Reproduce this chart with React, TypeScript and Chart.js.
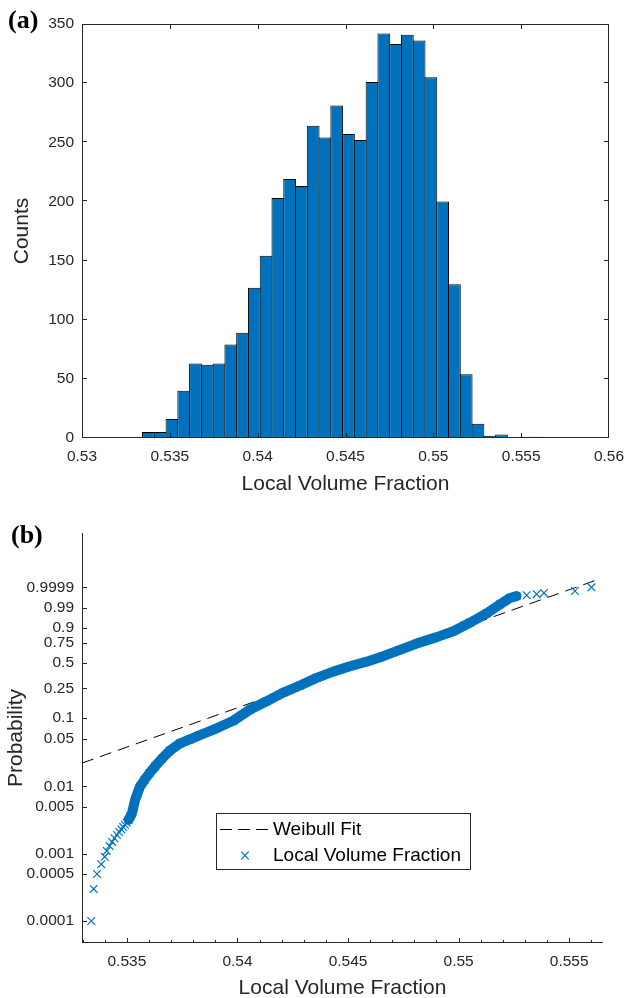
import React, { useEffect, useRef } from "react";
import { Chart, registerables } from "chart.js";

Chart.register(...registerables);

// ---------------- Panel (a): histogram ----------------
const histBinCenters = [
  0.53378, 0.53445, 0.53512, 0.53579, 0.53646, 0.53713, 0.5378, 0.53847, 0.53914,
  0.53981, 0.54048, 0.54115, 0.54182, 0.54249, 0.54316, 0.54383, 0.5445, 0.54517,
  0.54584, 0.54651, 0.54718, 0.54785, 0.54852, 0.54919, 0.54986, 0.55053, 0.5512,
  0.55187, 0.55254, 0.55321, 0.55388, 0.55455, 0.55522, 0.55589,
];
const histCounts = [
  5, 5, 16, 40, 63, 62, 63, 79, 89, 127, 154, 203, 219, 213, 264, 254, 281, 257,
  252, 301, 342, 333, 341, 336, 305, 200, 130, 54, 12, 2, 3, 0, 1, 1,
];
const histXTicks = [0.53, 0.535, 0.54, 0.545, 0.55, 0.555, 0.56];
const histYTicks = [0, 50, 100, 150, 200, 250, 300, 350];

// ---------------- Panel (b): Weibull probability plot ----------------
const lowTailX = [
  0.53339, 0.5335, 0.53365, 0.53384, 0.534, 0.53409, 0.53422, 0.53433, 0.53444,
  0.53455, 0.53465, 0.53475, 0.53483, 0.53491, 0.53499,
];
const lowTailP = [
  0.0001, 0.0003, 0.0005, 0.0007, 0.0009, 0.0011, 0.0013, 0.0015, 0.0017, 0.0019,
  0.0021, 0.0023, 0.0025, 0.0027, 0.0029,
];
const bandX = [
  0.53508, 0.53516, 0.53523, 0.5353, 0.53537, 0.53548, 0.53559, 0.5358, 0.53602,
  0.53627, 0.53659, 0.53695, 0.5374, 0.53785, 0.5383, 0.53906, 0.53981, 0.54057,
  0.54132, 0.54207, 0.54283, 0.54358, 0.54433, 0.54509, 0.54584, 0.54659, 0.54735,
  0.5481, 0.54901, 0.54976, 0.55051, 0.55127, 0.55187, 0.55232, 0.55262,
];
const bandP = [
  0.0032, 0.0036, 0.004, 0.005, 0.0063, 0.0079, 0.0099, 0.0125, 0.0157, 0.0197,
  0.0257, 0.0338, 0.0429, 0.0491, 0.0567, 0.0709, 0.0908, 0.1306, 0.1694, 0.2209,
  0.273, 0.339, 0.401, 0.46, 0.514, 0.581, 0.661, 0.738, 0.812, 0.87, 0.935, 0.977,
  0.994, 0.9983, 0.9989,
];
const highTailX = [0.55308, 0.55353, 0.55386, 0.55526, 0.55601];
const highTailP = [0.9991, 0.9993, 0.9995, 0.9997, 0.9999];

const fitX = [0.53297, 0.55636];
const fitP = [0.0221, 0.999995];

const probTicks = [0.0001, 0.0005, 0.001, 0.005, 0.01, 0.05, 0.1, 0.25, 0.5, 0.75, 0.9, 0.99, 0.9999];
const probTickLabels = ["0.0001", "0.0005", "0.001", "0.005", "0.01", "0.05", "0.1", "0.25", "0.5", "0.75", "0.9", "0.99", "0.9999"];
const probXTicks = [0.535, 0.54, 0.545, 0.55, 0.555];
const probXMinorTicks = [
  0.533, 0.534, 0.536, 0.537, 0.538, 0.539, 0.541, 0.542, 0.543, 0.544, 0.546,
  0.547, 0.548, 0.549, 0.551, 0.552, 0.553, 0.554, 0.556,
];

const xLabel = "Local Volume Fraction";
const yLabelA = "Counts";
const yLabelB = "Probability";
const fitLabel = "Weibull Fit";
const dataLabel = "Local Volume Fraction";

// ---------------- styles ----------------
const BLUE = "#0072BD";
const AXIS = "#262626";
const SANS = '"Liberation Sans", Arial, Helvetica, sans-serif';
const tickFont = { family: SANS, size: 15.5 };

const weib = (p: number) => Math.log(-Math.log(1 - p));
const fmtX = (v: number) => String(+Number(v).toFixed(4));

const axesPluginA = {
  id: "axesA",
  afterDraw(chart: any) {
    const { ctx, chartArea } = chart;
    const { left, right, top, bottom } = chartArea;
    const xs = chart.scales.x;
    const ys = chart.scales.y;
    ctx.save();
    ctx.strokeStyle = AXIS;
    ctx.lineWidth = 1;
    ctx.beginPath();
    ctx.rect(left + 0.5, top + 0.5, right - left - 1, bottom - top - 1);
    ctx.stroke();
    const tl = 5;
    ctx.beginPath();
    histXTicks.forEach((v) => {
      const px = Math.min(Math.round(xs.getPixelForValue(v)), right - 1) + 0.5;
      ctx.moveTo(px, bottom);
      ctx.lineTo(px, bottom - tl);
      ctx.moveTo(px, top);
      ctx.lineTo(px, top + tl);
    });
    histYTicks.forEach((v) => {
      const py = Math.max(Math.round(ys.getPixelForValue(v)), top + 1) - 0.5;
      ctx.moveTo(left, py);
      ctx.lineTo(left + tl, py);
      ctx.moveTo(right, py);
      ctx.lineTo(right - tl, py);
    });
    ctx.stroke();
    ctx.restore();
  },
};

const axesPluginB = {
  id: "axesB",
  afterDatasetsDraw(chart: any) {
    const { ctx, chartArea } = chart;
    const { left, right, top, bottom } = chartArea;
    const xs = chart.scales.x;
    const ys = chart.scales.y;
    ctx.save();
    ctx.strokeStyle = AXIS;
    ctx.lineWidth = 1;
    ctx.beginPath();
    ctx.moveTo(left + 0.5, top);
    ctx.lineTo(left + 0.5, bottom);
    ctx.moveTo(left, bottom - 0.5);
    ctx.lineTo(right, bottom - 0.5);
    probTicks.forEach((p) => {
      const py = Math.round(ys.getPixelForValue(weib(p))) + 0.5;
      ctx.moveTo(left, py);
      ctx.lineTo(left + 5, py);
    });
    probXTicks.forEach((v) => {
      const px = Math.round(xs.getPixelForValue(v)) + 0.5;
      ctx.moveTo(px, bottom);
      ctx.lineTo(px, bottom - 5);
    });
    probXMinorTicks.forEach((v) => {
      const px = Math.round(xs.getPixelForValue(v)) + 0.5;
      ctx.moveTo(px, bottom);
      ctx.lineTo(px, bottom - 3);
    });
    ctx.stroke();
    ctx.restore();
  },
  afterDraw(chart: any) {
    const { ctx } = chart;
    const lx = 216, ly = 313, lw = 254, lh = 56;
    ctx.save();
    ctx.fillStyle = "#fff";
    ctx.fillRect(lx, ly, lw, lh);
    ctx.strokeStyle = AXIS;
    ctx.lineWidth = 1;
    ctx.strokeRect(lx + 0.5, ly + 0.5, lw, lh);
    const fitDs = chart.data.datasets[2];
    const ptDs = chart.data.datasets[0];
    // row 1: dashed line
    ctx.strokeStyle = fitDs.borderColor;
    ctx.lineWidth = 1;
    ctx.setLineDash([12, 6]);
    ctx.beginPath();
    ctx.moveTo(220, ly + 16.5);
    ctx.lineTo(268, ly + 16.5);
    ctx.stroke();
    ctx.setLineDash([]);
    ctx.fillStyle = "#000";
    ctx.font = `19px ${SANS}`;
    ctx.textBaseline = "middle";
    ctx.textAlign = "left";
    ctx.fillText(fitDs.label, 273, ly + 17);
    // row 2: cross marker
    const cx = 245, cy = ly + 42.5, r = 3.8;
    ctx.strokeStyle = ptDs.borderColor;
    ctx.lineWidth = 1.2;
    ctx.beginPath();
    ctx.moveTo(cx - r, cy - r);
    ctx.lineTo(cx + r, cy + r);
    ctx.moveTo(cx - r, cy + r);
    ctx.lineTo(cx + r, cy - r);
    ctx.stroke();
    ctx.fillText(ptDs.label, 273, ly + 43);
    ctx.restore();
  },
};

export default function App() {
  const refA = useRef<HTMLCanvasElement>(null);
  const refB = useRef<HTMLCanvasElement>(null);

  useEffect(() => {
    const chartA = new Chart(refA.current as HTMLCanvasElement, {
      type: "bar",
      data: {
        datasets: [
          {
            data: histBinCenters.map((x, i) => ({ x, y: histCounts[i] })),
            backgroundColor: BLUE,
            borderColor: "#000",
            borderWidth: 1,
            borderSkipped: "start",
            barPercentage: 1.085,
            categoryPercentage: 1,
          } as any,
        ],
      },
      options: {
        responsive: false,
        animation: false,
        events: [],
        layout: { padding: { left: 0, right: 16, top: 24, bottom: 0 } },
        plugins: { legend: { display: false }, tooltip: { enabled: false } },
        scales: {
          x: {
            type: "linear",
            min: 0.53,
            max: 0.56,
            offset: false,
            grid: { display: false, drawTicks: false },
            border: { display: false },
            afterBuildTicks: (s: any) => {
              s.ticks = histXTicks.map((v) => ({ value: v }));
            },
            afterFit: (s: any) => {
              s.height = 62;
              s.paddingLeft = 0;
              s.paddingRight = 0;
            },
            ticks: {
              autoSkip: false,
              maxRotation: 0,
              padding: 9,
              color: AXIS,
              font: tickFont,
              callback: (v: any) => fmtX(v),
            },
            title: {
              display: true,
              text: xLabel,
              color: AXIS,
              font: { family: SANS, size: 21, lineHeight: 1 },
              padding: { top: 0, bottom: 5.5 },
            },
          },
          y: {
            type: "linear",
            min: 0,
            max: 350,
            grid: { display: false, drawTicks: false },
            border: { display: false },
            afterBuildTicks: (s: any) => {
              s.ticks = histYTicks.map((v) => ({ value: v }));
            },
            afterFit: (s: any) => {
              s.width = 82;
              s.paddingTop = 0;
              s.paddingBottom = 0;
            },
            ticks: {
              autoSkip: false,
              padding: 8,
              color: AXIS,
              font: tickFont,
              callback: (v: any) => String(v),
            },
            title: {
              display: true,
              text: yLabelA,
              color: AXIS,
              font: { family: SANS, size: 21, lineHeight: 1 },
              padding: { top: 12, bottom: 0 },
            },
          },
        },
      } as any,
      plugins: [axesPluginA],
    });

    const allX = [...lowTailX, ...bandX, ...highTailX];
    const allP = [...lowTailP, ...bandP, ...highTailP];

    const chartB = new Chart(refB.current as HTMLCanvasElement, {
      type: "scatter",
      data: {
        datasets: [
          {
            label: dataLabel,
            data: allX.map((x, i) => ({ x, y: weib(allP[i]) })),
            showLine: false,
            pointStyle: "crossRot",
            pointRadius: 5.4,
            pointBorderWidth: 1.2,
            borderColor: BLUE,
            backgroundColor: BLUE,
          },
          {
            label: "band",
            data: bandX.map((x, i) => ({ x, y: weib(bandP[i]) })),
            showLine: true,
            borderColor: BLUE,
            borderWidth: 10,
            borderJoinStyle: "round",
            borderCapStyle: "round",
            pointRadius: 0,
            tension: 0,
          },
          {
            label: fitLabel,
            data: fitX.map((x, i) => ({ x, y: weib(fitP[i]) })),
            showLine: true,
            borderColor: "#000",
            borderWidth: 1,
            borderDash: [12, 7],
            pointRadius: 0,
          },
        ] as any,
      },
      options: {
        responsive: false,
        animation: false,
        events: [],
        layout: { padding: { left: 0, right: 22, top: 33, bottom: 0 } },
        plugins: { legend: { display: false }, tooltip: { enabled: false } },
        scales: {
          x: {
            type: "linear",
            min: 0.53297,
            max: 0.55653,
            grid: { display: false, drawTicks: false },
            border: { display: false },
            afterBuildTicks: (s: any) => {
              s.ticks = probXTicks.map((v) => ({ value: v }));
            },
            afterFit: (s: any) => {
              s.height = 55;
              s.paddingLeft = 0;
              s.paddingRight = 0;
            },
            ticks: {
              autoSkip: false,
              maxRotation: 0,
              padding: 9,
              color: AXIS,
              font: tickFont,
              callback: (v: any) => fmtX(v),
            },
            title: {
              display: true,
              text: xLabel,
              color: AXIS,
              font: { family: SANS, size: 21, lineHeight: 0.9 },
              padding: { top: 0, bottom: 0 },
            },
          },
          y: {
            type: "linear",
            min: -9.964,
            max: 4.08,
            grid: { display: false, drawTicks: false },
            border: { display: false },
            afterBuildTicks: (s: any) => {
              s.ticks = probTicks.map((p) => ({ value: weib(p) }));
            },
            afterFit: (s: any) => {
              s.width = 82;
              s.paddingTop = 0;
              s.paddingBottom = 0;
            },
            ticks: {
              autoSkip: false,
              padding: 8,
              color: AXIS,
              font: tickFont,
              callback: (_v: any, i: number) => probTickLabels[i],
            },
            title: {
              display: true,
              text: yLabelB,
              color: AXIS,
              font: { family: SANS, size: 21, lineHeight: 1 },
              padding: { top: 6, bottom: 0 },
            },
          },
        },
      } as any,
      plugins: [axesPluginB],
    });

    return () => {
      chartA.destroy();
      chartB.destroy();
    };
  }, []);

  const panelLabel: React.CSSProperties = {
    position: "absolute",
    fontFamily: '"Liberation Serif", "Times New Roman", serif',
    fontWeight: "bold",
    fontSize: 26,
    lineHeight: "26px",
    color: "#000",
  };

  return (
    <div
      style={{
        position: "absolute",
        left: 0,
        top: 0,
        width: 625,
        height: 998,
        overflow: "hidden",
        background: "#fff",
      }}
    >
      <canvas
        ref={refA}
        width={625}
        height={500}
        style={{ position: "absolute", left: 0, top: 0, width: 625, height: 500 }}
      />
      <canvas
        ref={refB}
        width={625}
        height={498}
        style={{ position: "absolute", left: 0, top: 500, width: 625, height: 498 }}
      />
      <div style={{ ...panelLabel, left: 8, top: 7 }}>(a)</div>
      <div style={{ ...panelLabel, left: 11, top: 522 }}>(b)</div>
    </div>
  );
}
